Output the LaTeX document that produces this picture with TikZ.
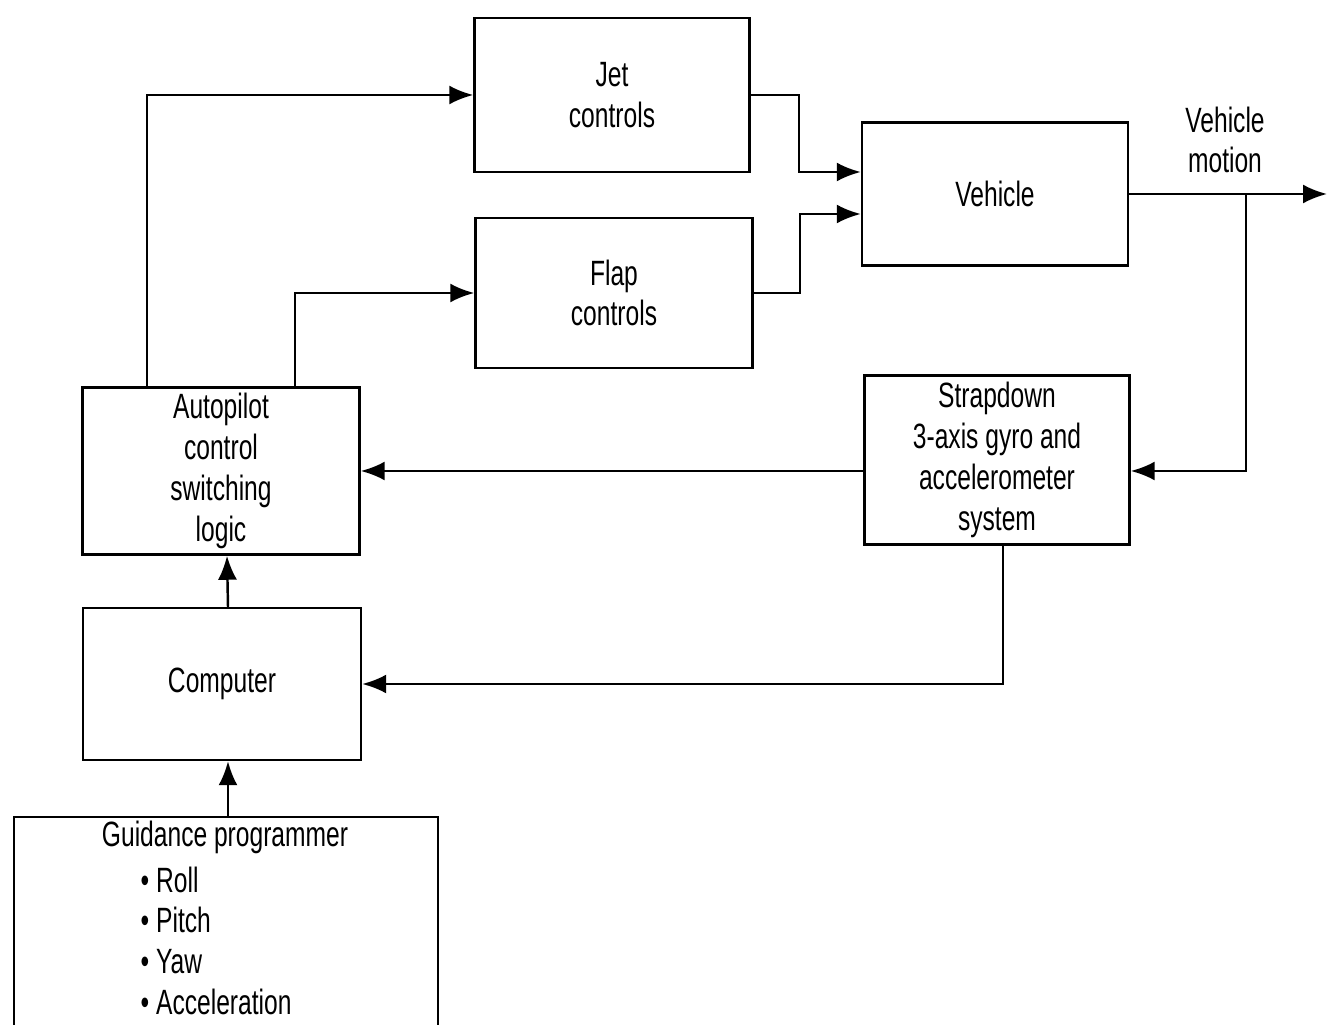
\documentclass[tikz,border=0pt]{standalone}
\usepackage{fontspec}
\setmainfont{Liberation Sans}[FakeStretch=0.70]
\usetikzlibrary{arrows.meta}

\begin{document}
\begin{tikzpicture}[
		blk/.style={draw, align=center, inner ysep=1pt, line width = 0.7pt, font=\fontsize{10}{11.6}\selectfont},
		arr/.style={-{Latex[length=2.4mm,width=1.9mm]}, line width = 0.7pt},
		lbl/.style={align=center, font=\fontsize{10}{11.6}\selectfont}
	]

	\useasboundingbox (0,0) rectangle (13.27,10.24);
	\clip (0,0) rectangle (13.27,10.24);

	\node[blk, minimum width=2.75cm, minimum height=1.54cm] (jet) at (6.12,9.29) {Jet\\controls};
	\node[blk, minimum width=2.77cm, minimum height=1.50cm] (flap) at (6.14,7.31) {Flap\\controls};
	\node[blk, minimum width=2.66cm, minimum height=1.43cm] (veh) at (9.95,8.30) {Vehicle};
	\node[blk, minimum width=2.65cm, minimum height=1.69cm] (strap) at (9.97,5.64) {Strapdown\\3-axis gyro and\\accelerometer\\system};
	\node[blk, minimum width=2.77cm, minimum height=1.67cm] (auto) at (2.21,5.53) {Autopilot\\control\\switching\\logic};
	\node[blk, minimum width=2.78cm, minimum height=1.52cm] (comp) at (2.22,3.40) {Computer};

	% guidance box runs off the bottom edge
	\node[blk, minimum width=4.24cm, minimum height=2.40cm, anchor=north] (guid) at (2.26,2.08) {};
	\node[lbl] (guidtitle) at (2.25,1.87) {Guidance programmer};
	\node[lbl, align=left, anchor=north west, inner sep=0pt] (guidlist) at (1.40,1.58) {\textbullet\ Roll\\ \textbullet\ Pitch\\ \textbullet\ Yaw\\ \textbullet\ Acceleration};

	\node[lbl] (motion) at (12.25,8.84) {Vehicle\\motion};
	\coordinate (out) at (13.27,8.30);

	\draw[arr] ([xshift=-0.74cm]auto.north) |- (jet.west);
	\draw[arr] ([xshift=0.74cm]auto.north) |- (flap.west);
	\draw[arr] (jet.east) -- ++(0.48,0) |- ([yshift=0.22cm]veh.west);
	\draw[arr] (flap.east) -- ++(0.46,0) |- ([yshift=-0.20cm]veh.west);
	\draw[arr] (veh.east) -- (out);
	\draw[arr] ([xshift=1.17cm]veh.east) |- (strap.east |- auto.east);
	\draw[arr] (strap.west |- auto.east) -- (auto.east);
	\draw[arr] ([xshift=0.06cm]strap.south) |- (comp.east);
	\draw[arr] ([xshift=0.06cm]comp.north) -- ([xshift=0.06cm]auto.south);
	\draw[arr] ([xshift=0.06cm]comp.south |- guid.north) -- ([xshift=0.06cm]comp.south);

\end{tikzpicture}
\end{document}
